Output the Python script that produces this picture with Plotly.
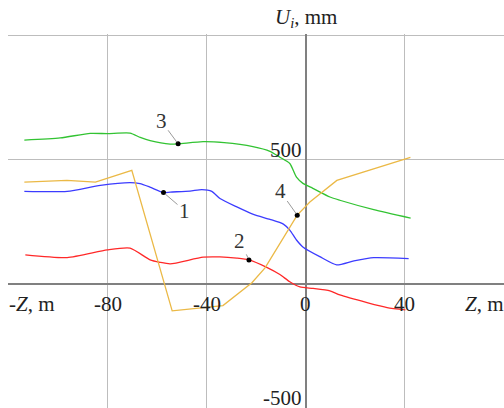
import plotly.graph_objects as go

# Displacement profiles U_i (mm) along the Z axis (m)
z1 = [-113.7, -96.4, -83.0, -71.0, -67.0, -63.0, -57.5, -54.8, -46.8, -42.0, -38.0,
      -34.7, -27.9, -21.2, -14.5, -9.1, -6.5, -3.8, -1.1, 5.6, 12.4, 19.4, 27.4, 41.5]
u1 = [372, 372, 396, 407, 403, 389, 367, 369, 373, 379, 372,
      343, 309, 279, 259, 240, 216, 176, 147, 109, 76, 92, 105, 101]

z2 = [-113.3, -96.4, -80.2, -71.0, -62.9, -58.9, -54.8, -41.5, -34.7, -27.9, -23.0,
      -15.8, -10.5, -6.5, -2.4, 2.9, 9.7, 13.7, 24.7, 32.8, 40.2]
u2 = [116, 105, 136, 143, 96, 86, 80, 107, 108, 103, 96,
      66, 37, 8, -13, -19, -29, -45, -76, -96, -105]

z3 = [-113.7, -99.2, -87.1, -80.2, -71.0, -66.9, -62.9, -54.8, -51.6, -41.5, -33.0,
      -21.4, -14.5, -10.5, -6.5, -3.8, -1.2, 2.8, 9.7, 13.7, 27.4, 42.3]
u3 = [578, 587, 605, 604, 606, 589, 576, 562, 563, 572, 568,
      552, 533, 509, 484, 429, 404, 384, 349, 336, 298, 264]

z4 = [-113.7, -96.5, -85.0, -70.3, -54.0, -33.5, -21.8, -16.5, -3.5, 1.6, 12.5, 42.2]
u4 = [409, 416, 409, 456, -109, -88, 4, 64, 276, 329, 416, 509]

# Curve numbers and the points they mark
label_text = ["1", "2", "3", "4"]
label_z = [-57.5, -23.0, -51.6, -3.5]
label_u = [367, 96, 563, 276]

z_ticks = [-80, -40, 0, 40]
u_ticks = [500, -500]

SERIF = "Liberation Serif, Times New Roman, Times, serif"

fig = go.Figure()
fig.add_trace(go.Scatter(x=z3, y=u3, mode="lines", line=dict(color="rgb(50,195,50)", width=1.3, shape="spline", smoothing=0.6)))
fig.add_trace(go.Scatter(x=z1, y=u1, mode="lines", line=dict(color="rgb(60,60,255)", width=1.3, shape="spline", smoothing=0.6)))
fig.add_trace(go.Scatter(x=z2, y=u2, mode="lines", line=dict(color="rgb(255,40,40)", width=1.3, shape="spline", smoothing=0.6)))
fig.add_trace(go.Scatter(x=z4, y=u4, mode="lines", line=dict(color="rgb(235,185,70)", width=1.3)))
fig.add_trace(go.Scatter(x=label_z, y=label_u, mode="markers", marker=dict(color="black", size=5)))

ann = []
# curve labels with leader lines: offsets (ax, ay) in pixels
offsets = {"1": (21, 18), "2": (-9, -19), "3": (-17, -23), "4": (-17, -24)}
for t, zx, uy in zip(label_text, label_z, label_u):
    ax, ay = offsets[t]
    ann.append(dict(x=zx, y=uy, text=t, showarrow=True, ax=ax, ay=ay,
                    arrowhead=0, arrowwidth=1, arrowcolor="#9a9a9a", standoff=2,
                    font=dict(family=SERIF, size=21, color="#333")))
for v in z_ticks:
    ann.append(dict(x=v, y=0, text=str(v), showarrow=False, yanchor="middle", yshift=-20,
                    font=dict(family=SERIF, size=21, color="#222")))
for v in u_ticks:
    ann.append(dict(x=0, y=v, text=str(v), showarrow=False, xanchor="right", yanchor="middle",
                    xshift=-2, yshift=10, font=dict(family=SERIF, size=21, color="#222")))
ann.append(dict(x=-120, y=0, text="-<i>Z</i>, m", showarrow=False, xanchor="left", yanchor="middle",
                xshift=-2, yshift=-20, font=dict(family=SERIF, size=21, color="#222")))
ann.append(dict(x=63.5, y=0, text="<i>Z</i>, m", showarrow=False, xanchor="left", yanchor="middle",
                yshift=-20, font=dict(family=SERIF, size=21, color="#222")))
ann.append(dict(x=0, y=1000, text="<i>U<sub>i</sub></i>, mm", showarrow=False, xanchor="center", yanchor="middle",
                yshift=17, font=dict(family=SERIF, size=21, color="#222")))

fig.update_layout(
    width=504, height=408,
    margin=dict(l=8, r=0, t=34, b=0),
    paper_bgcolor="white", plot_bgcolor="white",
    showlegend=False,
    annotations=ann,
    xaxis=dict(range=[-120.3, 80], tick0=0, dtick=40, showgrid=True, gridcolor="#bdbdbd", gridwidth=1,
               zeroline=True, zerolinecolor="#808080", zerolinewidth=1.5,
               showticklabels=False, ticks="", showline=False),
    yaxis=dict(range=[-500, 1005], tick0=0, dtick=500, showgrid=True, gridcolor="#bdbdbd", gridwidth=1,
               zeroline=True, zerolinecolor="#808080", zerolinewidth=1.5,
               showticklabels=False, ticks="", showline=False),
)

fig.write_html("out.html")
